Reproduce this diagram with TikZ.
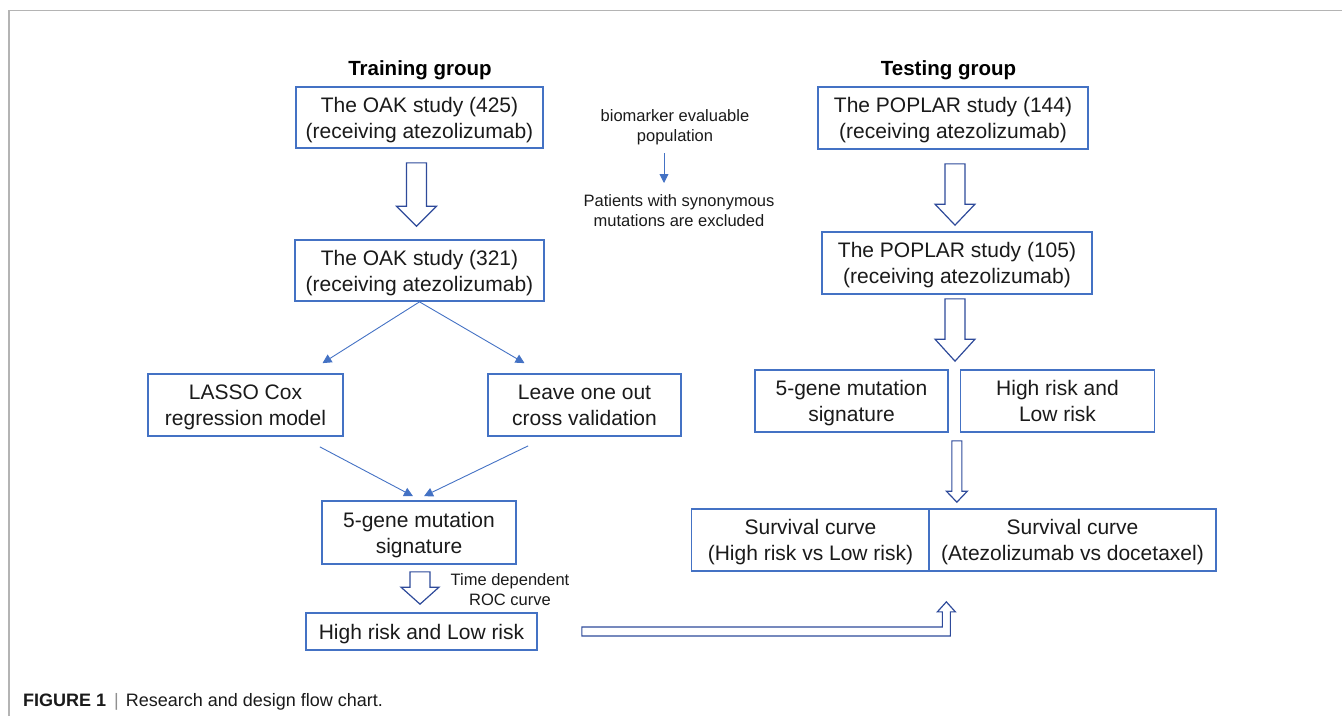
\documentclass[tikz,border=0pt]{standalone}
\usepackage{fontspec}
\setmainfont{Liberation Sans}
\usepackage{xcolor}
\usetikzlibrary{positioning,calc,arrows.meta}

\definecolor{boxblue}{HTML}{4472C4}
\definecolor{arrowblue}{HTML}{2E4A9A}
\definecolor{framegray}{HTML}{B4B4B4}
\definecolor{txt}{HTML}{1A1A1A}

% hollow block arrow pointing down: top point, tip point, half shaft, half head, head length
\newcommand{\blockdown}[5]{%
  \draw[hollow] let \p1=#1, \p2=#2 in
    (\x1-#3pt,\y1) -- (\x1-#3pt,\y2+#5pt) -- (\x1-#4pt,\y2+#5pt) -- (\x1,\y2)
    -- (\x1+#4pt,\y2+#5pt) -- (\x1+#3pt,\y2+#5pt) -- (\x1+#3pt,\y1) -- cycle;
}

\tikzset{
  box/.style={draw=boxblue, line width=1.7pt, align=center, inner sep=0pt, text depth=0pt,
    text=txt, font=\fontsize{21}{26}\selectfont},
  small/.style={align=center, inner sep=0pt, text=txt, font=\fontsize{16.5}{20}\selectfont},
  heading/.style={anchor=base, inner sep=0pt, font=\bfseries\fontsize{20.5}{24}\selectfont},
  thin/.style={draw=boxblue, line width=0.9pt, -{Triangle[length=9pt,width=9pt]}},
  hollow/.style={draw=arrowblue, line width=1.2pt, fill=white, line join=miter}
}

\begin{document}
\begin{tikzpicture}[x=1pt,y=-1pt]
    \useasboundingbox (0,0) rectangle (1342,716);
    \draw[framegray, line width=1.5pt] (9,716) -- (9,10.5) -- (1342,10.5);

    % Training group
    \node[heading] (train) at (420,75) {Training group};
    \node[box, minimum width=247, minimum height=61] (oak1) at (419.5,117.5) {The OAK study (425)\\(receiving atezolizumab)};
    \node[box, minimum width=249, minimum height=61] (oak2) at (419.5,270.5) {The OAK study (321)\\(receiving atezolizumab)};
    \node[box, minimum width=195, minimum height=62] (lasso) at (245.5,405) {LASSO Cox\\regression model};
    \node[box, minimum width=193, minimum height=62] (loo) at (584.5,405) {Leave one out\\cross validation};
    \node[box, minimum width=194, minimum height=63] (sig) at (419,532.5) {5-gene mutation\\signature};
    \node[box, minimum width=231, minimum height=37] (risk) at (421.5,631.5) {High risk and Low risk};
    \node[small] (roc) at (510,590) {Time dependent\\ROC curve};

    % Middle note
    \node[small] (bio) at (675,127) {biomarker evaluable\\population};
    \node[small] (excl) at (679,211) {Patients with synonymous\\mutations are excluded};
    \draw[thin] (664,153) -- (664,183);

    % Testing group
    \node[heading] (test) at (948.5,75) {Testing group};
    \node[box, minimum width=270, minimum height=62] (pop1) at (953,118) {The POPLAR study (144)\\(receiving atezolizumab)};
    \node[box, minimum width=270, minimum height=62] (pop2) at (957,263) {The POPLAR study (105)\\(receiving atezolizumab)};
    \node[box, minimum width=193, minimum height=62] (sig2) at (851.5,401) {5-gene mutation\\signature};
    \node[box, minimum width=194, minimum height=62] (risk2) at (1057.5,401) {High risk and\\Low risk};
    \node[box, minimum width=238, minimum height=62] (surv1) at (810.5,540) {Survival curve\\(High risk vs Low risk)};
    \node[box, minimum width=287, minimum height=62] (surv2) at (1072.5,540) {Survival curve\\(Atezolizumab vs docetaxel)};

    % thin arrows
    \draw[thin] (oak2.south) -- ($(lasso.north)+(77,-10)$);
    \draw[thin] (oak2.south) -- ($(loo.north)+(-60,-10)$);
    \draw[thin] ($(lasso.south east)+(-24,10)$) -- ($(sig.north)+(-6,-4)$);
    \draw[thin] ($(loo.south west)+(41,9)$) -- ($(sig.north)+(5,-4)$);

    % block arrows
    \blockdown{($(oak1.south)+(-3,14)$)}{($(oak2.north)+(-3,-13)$)}{10}{20}{20}
    \blockdown{($(sig.south)+(1,7)$)}{($(risk.north)+(-1.5,-8)$)}{10}{19}{17}
    \blockdown{($(pop1.south)+(2,14)$)}{($(pop2.north)+(-2,-6)$)}{10}{20}{21}
    \blockdown{($(pop2.south)+(-2,4)$)}{($(sig2.north east)+(7,-8)$)}{10}{20}{22}
    \blockdown{($(sig2.south east)+(8,8)$)}{($(surv1.north east)+(26,-6)$)}{5}{10.5}{11}
    \draw[hollow] let \p1=($(risk.east)+(44,0)$), \p2=($(surv1.south east)+(16,30)$) in
        (\x1,\y1+4.5pt) -- (\x2-4pt,\y1+4.5pt) -- (\x2-4pt,\y2-10pt) -- (\x2-9pt,\y2-10pt)
        -- (\x2,\y2) -- (\x2+9pt,\y2-10pt) -- (\x2+4pt,\y2-10pt) -- (\x2+4pt,\y1-4.5pt)
        -- (\x1,\y1-4.5pt) -- cycle;

    % caption
    \node[anchor=base west, inner sep=0pt, text=txt, font=\fontsize{18}{22}\selectfont] (cap) at (23,706)
        {\textbf{FIGURE 1}\hspace{8pt}\textcolor{framegray!80!black}{|}\hspace{7pt}Research and design flow chart.};
\end{tikzpicture}
\end{document}
